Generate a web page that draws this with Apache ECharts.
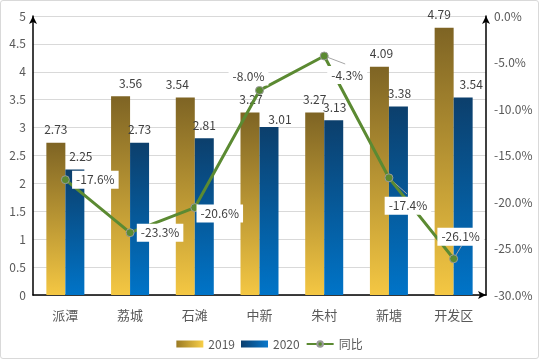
<!DOCTYPE html>
<html><head><meta charset="utf-8">
<script src="https://cdn.jsdelivr.net/npm/echarts@6/dist/echarts.min.js"></script>
<style>
html,body{margin:0;padding:0;background:#fff;}
#c{width:539px;height:359px;box-sizing:border-box;border:1px solid #d9d9d9;border-radius:3px;}
</style></head>
<body><div id="c"></div>
<script>
var categories = ['派潭','荔城','石滩','中新','朱村','新塘','开发区'];
var values2019 = [2.73, 3.56, 3.54, 3.27, 3.27, 4.09, 4.79];
var values2020 = [2.25, 2.73, 2.81, 3.01, 3.13, 3.38, 3.54];
var yoyPct = [-17.6, -23.3, -20.6, -8.0, -4.3, -17.4, -26.1];
var seriesNames = ['2019', '2020', '同比'];

// label placement (layout only, pixels)
var off2019 = [[0,0],[10,0],[-8,0],[1,0],[0,0],[2,0],[-5,0]];
var off2020 = [[6,0],[0,0],[0,0],[11,5],[1,0],[1,0],[8,0]];
var offYoy = [[30,0],[30,0],[25,6],[-11,-14],[23,19],[19,28],[7,-22]];
var leaderEnd = [null,null,null,null,[21,8],[18,16],[8,-13]];

var font = '"Noto Sans CJK SC", "Noto Sans", sans-serif';
var gold = {type:'linear',x:0,y:0,x2:0,y2:1,colorStops:[{offset:0,color:'#7e6424'},{offset:1,color:'#f4c743'}]};
var blue = {type:'linear',x:0,y:0,x2:0,y2:1,colorStops:[{offset:0,color:'#0c3f6c'},{offset:1,color:'#0074c8'}]};
var goldH = {type:'linear',x:0,y:0,x2:1,y2:0,colorStops:[{offset:0,color:'#9a7a24'},{offset:1,color:'#f8cf48'}]};
var blueH = {type:'linear',x:0,y:0,x2:1,y2:0,colorStops:[{offset:0,color:'#0b3f6e'},{offset:1,color:'#0a78cc'}]};

function barData(vals, offs){
  return vals.map(function(v,i){
    return {value:v, label:{offset:offs[i]}};
  });
}

var chart = echarts.init(document.getElementById('c'), null, {renderer:'canvas'});
chart.setOption({
  animation:false,
  textStyle:{fontFamily:font},
  grid:{left:32,right:52,top:15,bottom:63,containLabel:false},
  legend:{
    top:332, left:'center', itemWidth:27, itemHeight:7, itemGap:6,
    textStyle:{fontSize:12,color:'#595959',fontFamily:font},
    data:[
      {name:seriesNames[0], icon:'rect', itemStyle:{color:goldH}},
      {name:seriesNames[1], icon:'rect', itemStyle:{color:blueH}},
      {name:seriesNames[2]}
    ]
  },
  xAxis:{
    type:'category', data:categories,
    axisLine:{show:true,lineStyle:{color:'#000',width:1.5},symbol:['none','arrow'],symbolSize:[6,8]},
    axisTick:{show:false},
    axisLabel:{color:'#595959',fontSize:13,margin:14,fontFamily:font}
  },
  yAxis:[
    {type:'value',min:0,max:5,interval:0.5,
     axisLine:{show:true,lineStyle:{color:'#000',width:1.5},symbol:['none','arrow'],symbolSize:[6,8]},
     axisTick:{show:false},
     splitLine:{lineStyle:{color:'#d9d9d9',width:1}},
     axisLabel:{color:'#595959',fontSize:12,margin:7,fontFamily:font}},
    {type:'value',min:-30,max:0,interval:5,position:'right',
     axisLine:{show:true,lineStyle:{color:'#000',width:1.5},symbol:['none','arrow'],symbolSize:[6,8]},
     axisTick:{show:false},
     splitLine:{show:false},
     axisLabel:{color:'#595959',fontSize:12,margin:8,fontFamily:font,
       formatter:function(v){return v.toFixed(1)+'%';}}}
  ],
  series:[
    {name:seriesNames[0],type:'bar',barWidth:19,barGap:'0%',
     itemStyle:{color:gold},
     label:{show:true,position:'top',distance:7,color:'#404040',fontSize:12,fontFamily:font},
     data:barData(values2019, off2019)},
    {name:seriesNames[1],type:'bar',barWidth:19,barGap:'0%',
     itemStyle:{color:blue},
     label:{show:true,position:'top',distance:7,color:'#404040',fontSize:12,fontFamily:font},
     data:barData(values2020, off2020)},
    {name:'leader',type:'custom',yAxisIndex:1,z:4,silent:true,
     data:yoyPct.map(function(v,i){return [i,v];}),
     renderItem:function(params, api){
       var i = params.dataIndex, e = leaderEnd[i];
       if(!e) return null;
       var p = api.coord([api.value(0), api.value(1)]);
       return {type:'line',shape:{x1:p[0],y1:p[1],x2:p[0]+e[0],y2:p[1]+e[1]},
               style:{stroke:'#a6a6a6',lineWidth:1}};
     }},
    {name:seriesNames[2],type:'line',yAxisIndex:1,z:5,
     symbol:'circle',symbolSize:8,
     lineStyle:{color:'#5b8a32',width:3},
     itemStyle:{color:'#5b8a32',borderColor:'#9a9a9a',borderWidth:1},
     label:{show:true,position:'inside',color:'#404040',fontSize:12,fontFamily:font,
       backgroundColor:'#fff',padding:[3,4],
       formatter:function(p){return p.value.toFixed(1)+'%';}},
     labelLayout:function(p){var o=offYoy[p.dataIndex];return {dx:o[0],dy:o[1]};},
     data:yoyPct}
  ]
});
</script>
</body></html>
